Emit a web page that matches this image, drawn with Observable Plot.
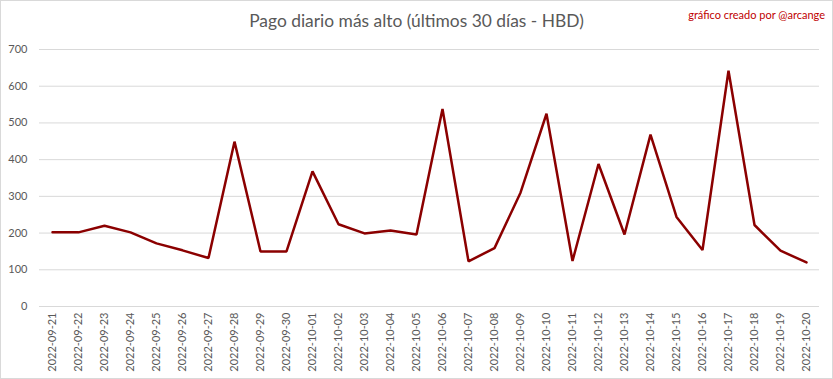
<!DOCTYPE html>
<html>
<head>
<meta charset="utf-8">
<script src="https://cdn.jsdelivr.net/npm/d3@7"></script>
<script src="https://cdn.jsdelivr.net/npm/@observablehq/plot@0.6"></script>
<style>
  html, body { margin: 0; padding: 0; background: #fff; }
  #wrap { position: relative; width: 833px; height: 379px; overflow: hidden; background: #fff; }
  #wrap svg { position: absolute; left: 0; top: 0; }
  #border { position: absolute; left: 0; top: 0; width: 831px; height: 377px; border: 1px solid #d9d9d9; pointer-events: none; }
  #title { position: absolute; left: 0; width: 833px; top: 10px; text-align: center; font-family: Lato, "Open Sans", sans-serif; font-size: 17.4px; color: #595959; }
  #credit { position: absolute; right: 8px; top: 8px; font-family: Lato, "Open Sans", sans-serif; font-size: 11px; color: #c00000; }
</style>
</head>
<body>
<div id="wrap">
  <div id="title">Pago diario más alto (últimos 30 días - HBD)</div>
  <div id="credit">gráfico creado por @arcange</div>
  <div id="border"></div>
</div>
<script>
const dates = [
  "2022-09-21","2022-09-22","2022-09-23","2022-09-24","2022-09-25","2022-09-26","2022-09-27",
  "2022-09-28","2022-09-29","2022-09-30","2022-10-01","2022-10-02","2022-10-03","2022-10-04",
  "2022-10-05","2022-10-06","2022-10-07","2022-10-08","2022-10-09","2022-10-10","2022-10-11",
  "2022-10-12","2022-10-13","2022-10-14","2022-10-15","2022-10-16","2022-10-17","2022-10-18",
  "2022-10-19","2022-10-20"
];
const values = [
  202, 202, 220, 202, 172, 153, 132,
  449, 150, 150, 368, 224, 199, 207,
  196, 538, 123, 159, 310, 525, 124,
  388, 196, 468, 244, 154, 642, 222,
  152, 120
];
const yTicks = [0, 100, 200, 300, 400, 500, 600, 700];

const data = dates.map((d, i) => ({date: d, value: values[i]}));

const chart = Plot.plot({
  width: 833,
  height: 379,
  marginTop: 49,
  marginBottom: 73,
  marginLeft: 39,
  marginRight: 14,
  style: {fontFamily: "Lato, 'Open Sans', sans-serif", fontSize: "11px", color: "#595959", background: "transparent"},
  x: {type: "point", domain: dates, padding: 0.5, label: null, tickSize: 0, tickPadding: 6, tickRotate: -90},
  y: {domain: [0, 700], ticks: yTicks, label: null, tickSize: 0, tickPadding: 12},
  marks: [
    Plot.gridY(yTicks, {stroke: "#d9d9d9", strokeOpacity: 1, strokeWidth: 1}),
    Plot.axisY(yTicks, {tickSize: 0, tickPadding: 12, label: null, fill: "#595959"}),
    Plot.axisX({tickSize: 0, tickPadding: 6, tickRotate: -90, label: null, fill: "#595959"}),
    Plot.line(data, {x: "date", y: "value", stroke: "#8b0000", strokeWidth: 2.5, strokeLinejoin: "miter"})
  ]
});
document.getElementById("wrap").insertBefore(chart, document.getElementById("title"));
</script>
</body>
</html>
